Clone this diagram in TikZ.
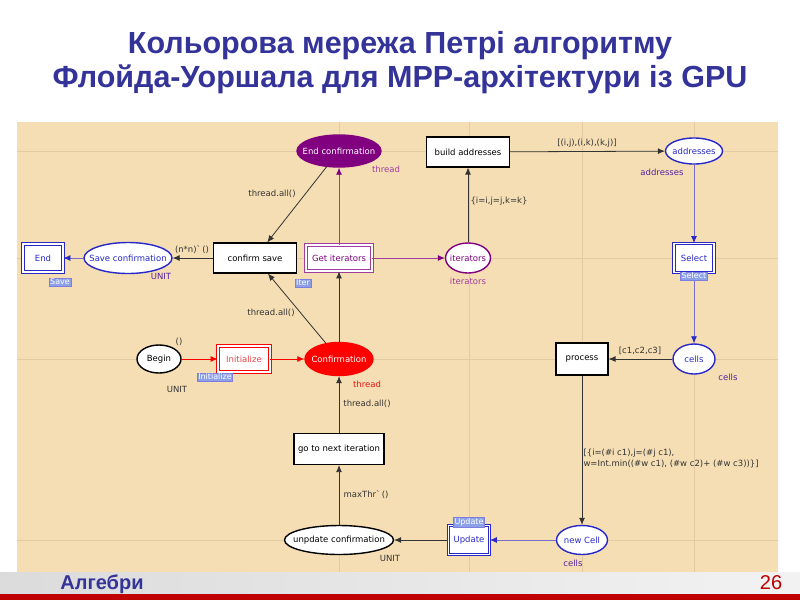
\documentclass[tikz,border=0pt]{standalone}
\usepackage{fontspec}
\setmainfont{DejaVu Sans}
\newfontfamily\titlefont{Liberation Sans}
\usetikzlibrary{shapes.geometric,arrows.meta}
\definecolor{panel}{RGB}{245,222,180}
\definecolor{gridc}{RGB}{226,203,162}
\definecolor{pnblue}{RGB}{40,40,200}
\definecolor{pnline}{RGB}{120,110,200}
\definecolor{pnpurple}{RGB}{128,0,128}
\definecolor{pnlpurple}{RGB}{160,60,160}
\definecolor{pnred}{RGB}{230,20,20}
\definecolor{tagc}{RGB}{140,160,232}
\definecolor{titleblue}{RGB}{51,51,153}
\definecolor{footred}{RGB}{190,0,0}
\tikzset{
  place/.style={ellipse,draw,line width=1.4pt,fill=white,inner xsep=-8pt,inner ysep=0pt},
  trans/.style={rectangle,draw,line width=1.2pt,fill=white,inner sep=1pt},
  fused/.style={rectangle,draw=#1,double=white,double distance=1.6pt,line width=0.9pt,fill=white,inner sep=1pt},
  tag/.style={fill=tagc,draw=pnblue!60,text=white,inner sep=1pt,line width=0.5pt,font=\fontsize{8}{9}\selectfont},
  lbl/.style={text=black!80},
  arc/.style={->,line width=0.8pt,draw=black!80},
  parc/.style={-{Latex[length=7pt,width=6pt,color=pnpurple]},line width=0.8pt,draw=pnlpurple},
  barc/.style={-{Latex[length=7pt,width=6pt,color=pnblue]},line width=0.8pt,draw=pnline},
  rarc/.style={-{Latex[length=7pt,width=6pt,color=red]},line width=0.8pt,draw=red}
}
\begin{document}
\begin{tikzpicture}[x=1pt,y=-1pt,>={Latex[length=7pt,width=6pt]},font=\fontsize{8.5}{10}\selectfont]
\useasboundingbox (0,0) rectangle (800,600);
\fill[white] (0,0) rectangle (800,600);
% title
\node[anchor=base,text=titleblue,font=\titlefont\bfseries\fontsize{30.5}{36}\selectfont] (title1) at (400,53) {Кольорова мережа Петрі алгоритму};
\node[anchor=base,text=titleblue,font=\titlefont\bfseries\fontsize{30.5}{36}\selectfont] (title2) at (400,87) {Флойда-Уоршала для MPP-архітектури із GPU};
% panel and guide lines
\fill[panel] (17,122) rectangle (778,572);
\foreach \x in {339,469,582,694}
{
    \draw[gridc,line width=0.7pt] (\x,122) -- (\x,572);
}
\foreach \y in {151,258,359,540}
{
    \draw[gridc,line width=0.7pt] (17,\y) -- (778,\y);
}
% places
\node[place,draw=pnblue,text=pnblue,minimum width=88,minimum height=31] (saveconf) at (128,258) {Save confirmation};
\node[place,draw=pnpurple,fill=pnpurple,text=white,minimum width=84,minimum height=32] (endconf) at (339,151) {End confirmation};
\node[place,draw=pnpurple,text=pnpurple,minimum width=45,minimum height=30] (iter) at (468,258) {iterators};
\node[place,draw=pnblue,text=pnblue,minimum width=57,minimum height=26] (addr) at (694,151) {addresses};
\node[place,draw=pnblue,text=pnblue,minimum width=42,minimum height=30] (cells) at (694,359) {cells};
\node[place,draw=pnblue,text=pnblue,minimum width=51,minimum height=29] (newcell) at (582,540) {new Cell};
\node[place,draw=black,minimum width=109,minimum height=29] (updconf) at (339,540) {unpdate confirmation};
\node[place,draw=red,fill=red,text=white,minimum width=68,minimum height=33] (conf) at (339,359) {Confirmation};
\node[place,draw=black,minimum width=44,minimum height=28] (begin) at (159,359) {Begin};
% transitions
\node[trans,minimum width=83,minimum height=30] (confsave) at (255,258) {confirm save};
\node[trans,minimum width=83,minimum height=30] (build) at (468,152) {build addresses};
\node[trans,minimum width=52,minimum height=32] (process) at (582,359) {process};
\node[trans,minimum width=90,minimum height=31] (nextit) at (339,449) {go to next iteration};
\node[fused=pnblue,text=pnblue,minimum width=40,minimum height=28] (end) at (43,258) {End};
\node[fused=pnlpurple,text=pnpurple,minimum width=66,minimum height=26] (getit) at (339,258) {Get iterators};
\node[fused=pnblue,text=pnblue,minimum width=40,minimum height=29] (select) at (694,258) {Select};
\node[fused=red,text=pnred!80,minimum width=52,minimum height=26] (init) at (244,359) {Initialize};
\node[fused=pnblue,text=pnblue,minimum width=41,minimum height=29] (update) at (469,540) {Update};
% arcs
\draw[arc] (endconf) -- (confsave);
\draw[arc] (conf) -- (confsave);
\draw[arc] (conf) -- (getit);
\draw[parc] (getit) -- (endconf);
\draw[parc] (getit) -- (iter);
\draw[arc] (iter) -- (build);
\draw[arc] (build) -- (addr);
\draw[barc] (addr) -- (select);
\draw[barc] (select) -- (cells);
\draw[arc] (cells) -- (process);
\draw[arc] (process) -- (newcell);
\draw[barc] (newcell) -- (update);
\draw[arc] (update) -- (updconf);
\draw[arc] (updconf) -- (nextit);
\draw[arc] (nextit) -- (conf);
\draw[rarc] (begin) -- (init);
\draw[rarc] (init) -- (conf);
\draw[arc] (confsave) -- (saveconf);
\draw[barc] (saveconf) -- (end);
% tags
\node[tag] (savetag) at (60,282) {Save};
\node[tag] (itertag) at (303,283) {Iter};
\node[tag] (selecttag) at (694,276) {Select};
\node[tag] (inittag) at (215,377) {Initialize};
\node[tag] (updtag) at (469,522) {Update};
% inscriptions
\node[lbl] (ins1) at (272,194) {thread.all()};
\node[lbl] (ins2) at (271,313) {thread.all()};
\node[lbl] (ins3) at (367,404) {thread.all()};
\node[lbl] (ins4) at (192,250) {(n*n)\textasciigrave\,()};
\node[lbl] (ins5) at (179,342) {()};
\node[lbl] (ins6) at (177,389) {UNIT};
\node[text=pnblue!80!red] (ins7) at (161,276) {UNIT};
\node[text=pnlpurple] (ins8) at (386,169) {thread};
\node[text=pnlpurple] (ins9) at (468,281) {iterators};
\node[lbl] (ins10) at (499,201) {\{i=i,j=j,k=k\}};
\node[lbl] (ins11) at (587,143) {[(i,j),(i,k),(k,j)]};
\node[text=pnblue!80!red] (ins12) at (662,172) {addresses};
\node[lbl] (ins13) at (640,351) {[c1,c2,c3]};
\node[text=pnblue!80!red] (ins14) at (728,377) {cells};
\node[lbl,anchor=north west,align=left,font=\fontsize{8.5}{11}\selectfont] (ins15) at (580,446) {[\{i=(\#i c1),j=(\#j c1),\\w=Int.min((\#w c1), (\#w c2)+ (\#w c3))\}]};
\node[text=pnblue!80!red] (ins16) at (573,563) {cells};
\node[lbl] (ins17) at (390,558) {UNIT};
\node[lbl] (ins18) at (366,495) {maxThr\textasciigrave\,()};
\node[text=pnred] (ins19) at (367,384) {thread};
% footer
\shade[left color=black!14,right color=black!5] (0,572) rectangle (800,594);
\fill[footred] (0,594) rectangle (800,600);
\node[anchor=base,text=titleblue,font=\titlefont\bfseries\fontsize{20}{24}\selectfont] (foot) at (102,589) {Алгебри};
\node[anchor=base,text=footred,font=\titlefont\fontsize{20}{24}\selectfont] (page) at (771,589) {26};
\end{tikzpicture}
\end{document}
